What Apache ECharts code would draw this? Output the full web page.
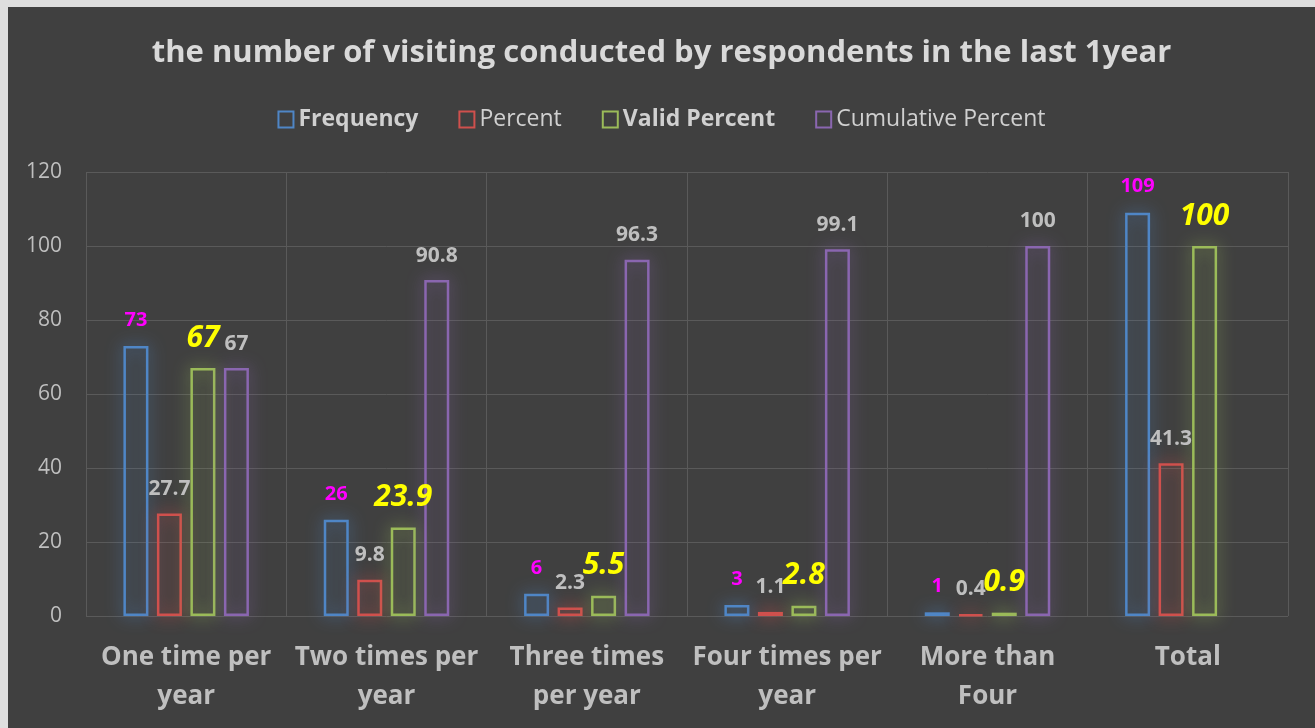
<!DOCTYPE html>
<html>
<head>
<meta charset="utf-8">
<script src="https://cdn.jsdelivr.net/npm/echarts@6/dist/echarts.min.js"></script>
<style>
  html, body { margin: 0; padding: 0; background: #dedede; }
  #chart { position: absolute; left: 8px; top: 7px; width: 1307px; height: 721px; background: #404040; }
</style>
</head>
<body>
<div id="chart"></div>
<script>
const categories = ['One time per\nyear', 'Two times per\nyear', 'Three times\nper year', 'Four times per\nyear', 'More than\nFour', 'Total']
const frequency = [73, 26, 6, 3, 1, 109]
const percent = [27.7, 9.8, 2.3, 1.1, 0.4, 41.3]
const validPercent = [67, 23.9, 5.5, 2.8, 0.9, 100]
const cumulativePercent = [67, 90.8, 96.3, 99.1, 100, null]
const yTicks = { min: 0, max: 120, interval: 20 }

const font = '"Open Sans", "Noto Sans", sans-serif'

function hollowBar(name, data, color, label) {
  return {
    name: name,
    type: 'bar',
    data: data,
    barWidth: 25,
    barGap: '34%',
    itemStyle: {
      color: 'rgba(0,0,0,0)',
      borderColor: color,
      borderWidth: 2.5,
      shadowBlur: 16,
      shadowColor: color,
    },
    label: Object.assign({
      show: true,
      position: 'top',
      fontFamily: font,
      fontWeight: 'bold',
    }, label),
  }
}

const chart = echarts.init(document.getElementById('chart'))

chart.setOption({
  animation: false,
  title: {
    text: 'the number of visiting conducted by respondents in the last 1year',
    left: 'center',
    top: 26,
    textStyle: {
      color: '#d9d9d9',
      fontFamily: font,
      fontWeight: 'bold',
      fontSize: 31,
    },
  },
  legend: {
    top: 96,
    left: 'center',
    icon: 'rect',
    itemWidth: 15,
    itemHeight: 16,
    itemGap: 40,
    data: [
      { name: 'Frequency', itemStyle: { color: 'rgba(0,0,0,0)', borderColor: '#4f86c6', borderWidth: 2 } },
      { name: 'Percent', itemStyle: { color: 'rgba(0,0,0,0)', borderColor: '#d0504d', borderWidth: 2 } },
      { name: 'Valid Percent', itemStyle: { color: 'rgba(0,0,0,0)', borderColor: '#9bbb59', borderWidth: 2 } },
      { name: 'Cumulative Percent', itemStyle: { color: 'rgba(0,0,0,0)', borderColor: '#8a66b0', borderWidth: 2 } },
    ],
    formatter: (name) => (name === 'Frequency' || name === 'Valid Percent') ? '{b|' + name + '}' : '{n|' + name + '}',
    textStyle: {
      rich: {
        b: { color: '#d0d0d0', fontFamily: font, fontWeight: 'bold', fontSize: 23 },
        n: { color: '#d0d0d0', fontFamily: font, fontSize: 23 },
      },
    },
  },
  grid: {
    left: 78,
    right: 27,
    top: 165,
    bottom: 112,
  },
  xAxis: {
    type: 'category',
    data: categories,
    axisLine: { show: false },
    axisTick: { show: false },
    splitLine: { show: true, lineStyle: { color: '#5a5a5a', width: 1 } },
    axisLabel: {
      color: '#bfbfbf',
      fontFamily: font,
      fontWeight: 'bold',
      fontSize: 26,
      lineHeight: 39,
      margin: 22,
      interval: 0,
    },
  },
  yAxis: {
    type: 'value',
    min: yTicks.min,
    max: yTicks.max,
    interval: yTicks.interval,
    axisLine: { show: false },
    axisTick: { show: false },
    splitLine: { lineStyle: { color: '#5a5a5a', width: 1 } },
    axisLabel: {
      color: '#bfbfbf',
      fontFamily: font,
      fontSize: 21,
      margin: 24,
    },
  },
  series: [
    hollowBar('Frequency', frequency, '#4f86c6', { color: '#ff00ff', fontSize: 20, lineHeight: 20, distance: 16 }),
    hollowBar('Percent', percent, '#d0504d', { color: '#bfbfbf', fontSize: 21, lineHeight: 21, distance: 14 }),
    hollowBar('Valid Percent', validPercent, '#9bbb59', { color: '#ffff00', fontSize: 30, lineHeight: 30, fontStyle: 'italic', distance: 15 }),
    hollowBar('Cumulative Percent', cumulativePercent, '#8a66b0', { color: '#bfbfbf', fontSize: 21, lineHeight: 21, distance: 14 }),
  ],
})
</script>
</body>
</html>
